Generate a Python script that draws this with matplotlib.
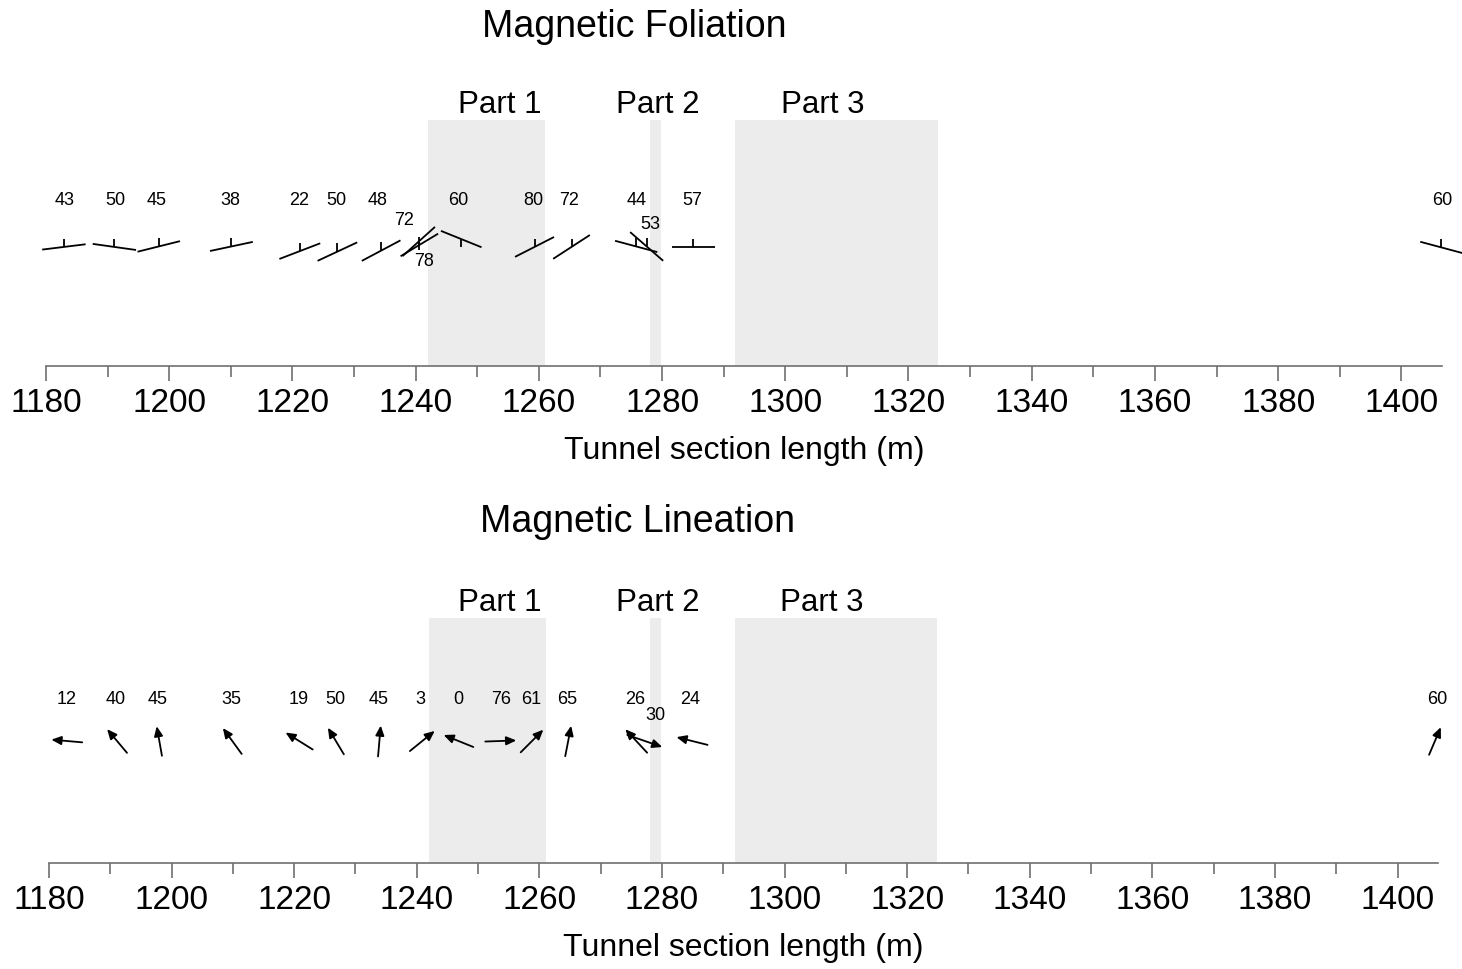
import numpy as np
import matplotlib
matplotlib.use("Agg")
import matplotlib.pyplot as plt
import matplotlib.transforms as mtransforms
from matplotlib.patches import FancyArrowPatch

plt.rcParams['font.family'] = ['Liberation Sans', 'DejaVu Sans']

# ---- data ----
# shaded parts (m)
part_names = ['Part 1', 'Part 2', 'Part 3']
part_start = [1242.0, 1278.1, 1291.9]
part_end = [1261.0, 1279.9, 1324.8]
part_label_x = [1253.6, 1279.3, 1306.1]

# magnetic foliation: position (m), dip, strike angle on plot (deg), dip tick side
fol_x = [1182.9, 1191.1, 1198.3, 1210.1, 1221.2, 1227.3, 1234.4, 1240.5,
         1240.6, 1247.4, 1259.3, 1265.3, 1275.8, 1277.5, 1285.1, 1406.5]
fol_y = [0.484, 0.484, 0.486, 0.486, 0.467, 0.465, 0.469, 0.506,
         0.492, 0.516, 0.484, 0.484, 0.486, 0.486, 0.484, 0.482]
fol_dip = [43, 50, 45, 38, 22, 50, 48, 72, 78, 60, 80, 72, 44, 53, 57, 60]
fol_strike = [7, -8, 14, 12, 21, 25, 28, 42, 31, -22, 27, 33, -15, -41, 0, -15]
fol_side = [1, 1, 1, 1, 1, 1, 1, -1, 1, -1, 1, 1, 1, 1, 1, 1]
fol_lab_x = [1183.1, 1191.2, 1198.0, 1210.0, 1221.1, 1227.1, 1233.9, 1238.1,
             1241.4, 1246.9, 1259.1, 1264.9, 1275.8, 1278.1, 1284.9, 1406.7]
fol_lab_y = [0.671, 0.671, 0.671, 0.671, 0.671, 0.671, 0.671, 0.593,
             0.423, 0.671, 0.671, 0.671, 0.671, 0.577, 0.671, 0.671]

# magnetic lineation: position (m), plunge, trend direction on plot (deg)
lin_x = [1182.9, 1191.1, 1198.0, 1209.9, 1220.8, 1226.8, 1233.9, 1240.9,
         1246.8, 1253.7, 1258.8, 1264.7, 1275.8, 1277.2, 1284.9, 1406.1]
lin_plunge = [12, 40, 45, 35, 19, 50, 45, 3, 0, 76, 61, 65, 26, 30, 24, 60]
lin_dir = [175, 130, 100, 126, 148, 121, 85, 39, 158, 2, 45, 79, 133, -19, 166, 67]
lin_len = [31, 31, 30, 32, 32, 31, 31, 32, 32, 31, 32, 31, 32, 37, 32, 30]
lin_lab_x = [1182.8, 1190.9, 1197.8, 1209.7, 1220.7, 1226.8, 1233.8, 1240.6,
             1246.7, 1253.7, 1258.6, 1264.6, 1275.7, 1278.9, 1284.6, 1406.4]
lin_lab_y = [0.669, 0.669, 0.669, 0.669, 0.669, 0.669, 0.669, 0.669,
             0.669, 0.669, 0.669, 0.669, 0.669, 0.600, 0.669, 0.669]

xmin, xmax = 1180, 1406.6
shade = '#ececec'
axcol = '#707070'

fig = plt.figure(figsize=(14.62, 9.69), dpi=100)
ax1 = fig.add_axes([46/1462, 1-366/969, 1396/1462, 246/969])
ax2 = fig.add_axes([49/1462, 1-863/969, 1389/1462, 245/969])


def setup(ax):
    ax.set_xlim(xmin, xmax)
    ax.set_ylim(0, 1)
    for s in ['top', 'left', 'right']:
        ax.spines[s].set_visible(False)
    ax.spines['bottom'].set_color(axcol)
    ax.spines['bottom'].set_linewidth(1.2)
    ax.set_yticks([])
    ax.set_xticks(np.arange(1180, 1401, 20))
    ax.set_xticks(np.arange(1190, 1406, 20), minor=True)
    ax.tick_params(axis='x', which='major', length=11, width=1.2, color=axcol,
                   labelsize=24, pad=5)
    ax.tick_params(axis='x', which='minor', length=8, width=1.2, color=axcol)
    ax.set_xlabel('Tunnel section length (m)', fontsize=23, labelpad=12)
    ax.patch.set_alpha(0)
    for a, b, name, lx in zip(part_start, part_end, part_names, part_label_x):
        ax.axvspan(a, b, color=shade, lw=0, zorder=0)
        ax.text(lx, 1.062, name, fontsize=22.5, ha='center', va='center',
                clip_on=False)


def local_tr(ax, x, y, ang):
    # rotate a shape given in points, then place it at data point (x, y)
    return (mtransforms.Affine2D().rotate_deg(ang).scale(fig.dpi / 72)
            + mtransforms.ScaledTranslation(x, y, ax.transData))


setup(ax1)
setup(ax2)

# foliation symbols: strike line plus a short vertical dip tick
L = 31.5
h = 6.0
for x, y, ang, side in zip(fol_x, fol_y, fol_strike, fol_side):
    tr = local_tr(ax1, x, y, ang)
    ax1.plot([-L/2, L/2], [0, 0], color='black', lw=1.3, transform=tr,
             clip_on=False, solid_capstyle='butt')
    tr0 = local_tr(ax1, x, y, 0)
    ax1.plot([0, 0], [0, side*h], color='black', lw=1.3, transform=tr0,
             clip_on=False, solid_capstyle='butt')
for x, y, d in zip(fol_lab_x, fol_lab_y, fol_dip):
    ax1.text(x, y, str(d), fontsize=13, ha='center', va='center',
             clip_on=False)

# lineation arrows
for x, ang, ln in zip(lin_x, lin_dir, lin_len):
    tr = local_tr(ax2, x, 0.498, ang)
    half = ln * 0.72 / 2
    arr = FancyArrowPatch((-half, 0), (half, 0), transform=tr,
                          arrowstyle='-|>,head_length=0.45,head_width=0.2',
                          mutation_scale=13, color='black', lw=1.3,
                          shrinkA=0, shrinkB=0, clip_on=False)
    ax2.add_patch(arr)
for x, y, p in zip(lin_lab_x, lin_lab_y, lin_plunge):
    ax2.text(x, y, str(p), fontsize=13, ha='center', va='center',
             clip_on=False)

fig.text(634/1462, 1-27/969, 'Magnetic Foliation', fontsize=27,
         ha='center', va='center')
fig.text(637/1462, 1-522/969, 'Magnetic Lineation', fontsize=27,
         ha='center', va='center')

fig.savefig('out.png', dpi=100)
